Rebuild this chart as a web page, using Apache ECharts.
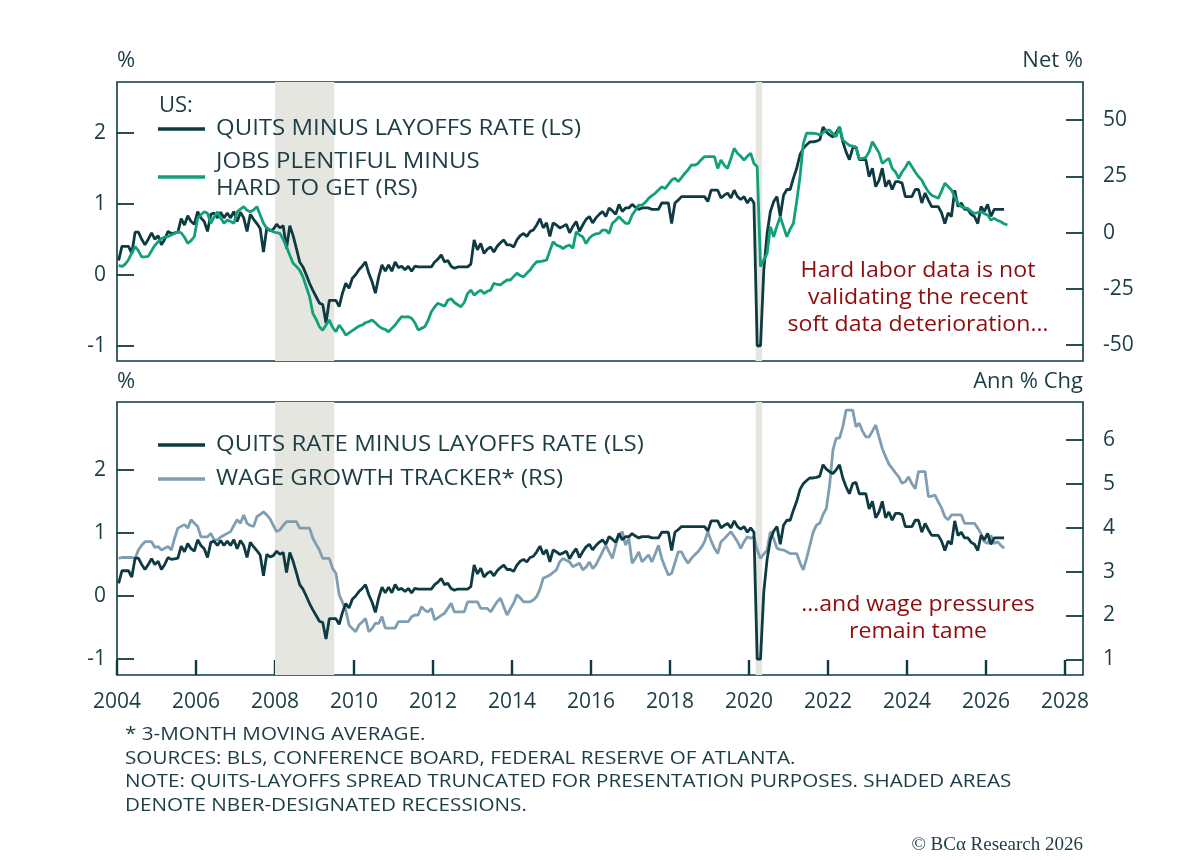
<!DOCTYPE html>
<html>
<head>
<meta charset="utf-8">
<script src="https://cdn.jsdelivr.net/npm/echarts@6/dist/echarts.min.js"></script>
<style>
html,body{margin:0;padding:0;background:#fff;}
#chart{width:1200px;height:860px;}
</style>
</head>
<body>
<div id="chart"></div>
<script>
// Monthly data, starting January 2004
const START_YEAR = 2004;
const xTickYears = [2004,2006,2008,2010,2012,2014,2016,2018,2020,2022,2024,2026,2028];
const topLeftTicks = [-1,0,1,2];
const topRightTicks = [-50,-25,0,25,50];
const botLeftTicks = [-1,0,1,2];
const botRightTicks = [1,2,3,4,5,6];
const recessions = [[2008.0, 2009.5],[2020.167, 2020.333]];

// Quits minus layoffs rate (%), truncated at -1
const quitsMinusLayoffs = [
0.2,0.4,0.4,0.4,0.3,0.6,0.6,0.5,0.42,0.5,0.59,0.5,
0.55,0.42,0.5,0.61,0.58,0.59,0.6,0.79,0.7,0.83,0.75,0.71,
0.89,0.8,0.75,0.61,0.85,0.87,0.8,0.88,0.8,0.87,0.8,0.89,
0.75,0.88,0.8,0.61,0.85,0.78,0.72,0.65,0.32,0.66,0.62,0.64,
0.71,0.66,0.69,0.37,0.69,0.55,0.37,0.18,0.11,0.0,-0.12,-0.22,
-0.31,-0.4,-0.42,-0.68,-0.36,-0.36,-0.36,-0.45,-0.26,-0.12,-0.19,-0.05,
0.0,0.07,0.12,0.18,0.02,-0.1,-0.26,-0.03,0.14,0.05,0.14,0.05,
0.18,0.1,0.12,0.07,0.12,0.05,0.12,0.11,0.11,0.11,0.11,0.11,
0.18,0.22,0.28,0.18,0.2,0.12,0.09,0.11,0.11,0.11,0.11,0.15,
0.49,0.35,0.44,0.3,0.36,0.39,0.32,0.4,0.45,0.49,0.42,0.42,
0.39,0.49,0.55,0.58,0.54,0.61,0.63,0.7,0.79,0.66,0.73,0.54,
0.73,0.7,0.66,0.68,0.71,0.59,0.68,0.75,0.61,0.7,0.78,0.82,
0.73,0.8,0.85,0.89,0.82,0.94,0.9,0.85,0.99,0.89,0.94,0.94,
0.99,0.95,0.92,0.94,0.94,0.94,0.92,0.92,0.92,1.01,1.01,1.01,
0.72,1.01,1.05,1.1,1.1,1.1,1.1,1.1,1.1,1.1,1.1,1.03,
1.19,1.19,1.19,1.08,1.12,1.15,1.08,1.19,1.1,1.06,1.1,1.01,
1.08,1.01,-1.0,-1.0,0.07,0.58,0.89,1.03,1.1,0.82,1.12,1.2,
1.2,1.36,1.5,1.69,1.78,1.83,1.87,1.87,1.88,1.9,2.08,2.01,
1.97,1.94,2.0,2.08,1.87,1.73,1.62,1.78,1.8,1.62,1.62,1.62,
1.38,1.5,1.24,1.33,1.5,1.24,1.33,1.2,1.31,1.31,1.29,1.1,
1.1,1.1,1.2,1.2,1.01,1.15,1.05,0.96,0.96,0.96,0.87,0.72,
0.87,0.82,1.19,0.96,1.01,0.92,0.92,0.85,0.82,0.72,0.96,0.89,
0.99,0.82,0.92,0.92,0.92,0.92
];

// Jobs plentiful minus hard to get (net %)
const jobsPlentifulMinusHard = [
-14.5,-15,-14,-12,-9,-6.2,-8,-10.7,-10.7,-10.5,-8,-5.6,
-4,-2.5,-2,-1.7,-1,-0.3,0.4,0,-2,-4.7,-3.5,-1.7,
6.4,8,9.3,8.6,4.2,7,9.3,6.5,4.2,5.6,5,4.2,
9.3,10.5,11.6,10,9.3,10.1,11.6,7.9,4.2,2,1.2,0.4,
0,-0.3,-3,-6.2,-10,-13.6,-15,-16.6,-19.6,-24,-28.4,-35.8,
-38.5,-41.8,-43.3,-41,-38.8,-42,-44,-41,-43,-45.5,-44.5,-43.5,
-42.5,-41.5,-41,-40,-39.5,-38.8,-40,-41.5,-42.5,-43,-44,-42.5,
-41,-39,-37.3,-37.5,-37.3,-38,-40,-43.2,-42.5,-41.8,-39,-35.1,
-33,-31.3,-32,-32.7,-30,-29.3,-31,-32,-32.9,-31,-27,-25.5,
-27.7,-26.5,-25.5,-27,-26,-25.5,-22.5,-23,-23.2,-22,-21,-21,
-19.5,-18,-19,-19.6,-18,-16.6,-14.5,-12.9,-12.9,-12.5,-12.2,-8,
-4,-5.5,-6,-7,-6,-5.5,-6.9,0.4,-1,-1.8,-4.8,-2.5,
-1.1,-0.5,-0.3,1.2,1.2,-0.3,4.2,5.5,7.1,5.6,4.2,4.2,
7.9,10,12.3,12.3,13.5,15.3,16.5,17.5,19,20.4,19.6,21.5,
23.4,24.2,22.7,24.5,26.4,28,30.1,30,30.8,32.5,33.8,33.8,
33.8,33.8,28.6,32.3,30,28.6,33,37.5,35.3,34,32.3,34,
35.3,30.8,29.3,-15.1,-12,-9.2,2.7,-1.8,3,7.1,2.6,-1.8,
1.6,4.2,14,24.9,39.7,44.2,44.2,44.2,44,43.5,44.5,45.6,
45.6,44,42.7,47.1,41.2,40,38.8,38.5,38,32.8,33,33.5,
36,40.5,38,35.5,30.8,32,33,28.6,27,24.2,27,29,
31.6,29.3,27,25,23.4,20.5,18.2,16.7,16,15.3,18.5,22,
20.5,19,16,13.1,11.6,11,10.8,9.5,8.6,9,9.3,8.5,
7.9,5.6,6.4,5.5,4.9,4,3.4
];

// Wage growth tracker, 3-month moving average (ann % chg)
const wageGrowthTracker = [
3.30,3.32,3.32,3.32,3.32,3.30,3.49,3.6,3.68,3.68,3.68,3.55,
3.57,3.49,3.53,3.57,3.49,3.76,3.99,4.03,4.07,3.99,4.18,4.1,
4.03,3.79,3.79,3.79,3.87,3.72,3.72,3.79,3.83,3.87,3.91,4.05,
4.18,4.1,4.29,4.1,4.05,4.03,4.25,4.3,4.36,4.29,4.2,4.05,
3.91,3.95,4.05,4.14,4.14,4.14,4.14,3.99,3.99,3.99,3.99,3.76,
3.62,3.49,3.3,3.3,3.3,3.07,2.96,2.47,2.3,2.12,1.78,1.7,
1.63,1.78,1.85,1.93,1.63,1.7,1.82,1.82,1.97,1.71,1.71,1.71,
1.71,1.86,1.86,1.86,1.86,1.97,2.01,2.01,2.2,2.12,2.08,2.16,
1.9,1.95,2.0,2.05,2.16,2.28,2.08,2.08,2.08,2.08,2.31,2.31,
2.31,2.31,2.16,2.16,2.16,2.08,2.2,2.31,2.39,2.2,2.01,2.15,
2.28,2.47,2.4,2.31,2.31,2.31,2.35,2.43,2.6,2.85,2.88,2.92,
2.98,3.04,3.22,3.30,3.26,3.22,3.11,3.15,3.19,3.04,3.1,3.22,
3.07,3.15,3.30,3.45,3.6,3.45,3.3,3.6,3.83,3.91,3.6,3.76,
3.19,3.3,3.45,3.22,3.3,3.38,3.22,3.4,3.6,3.3,3.1,2.92,
2.96,3.2,3.45,3.45,3.3,3.19,3.3,3.38,3.45,3.55,3.68,3.91,
3.7,3.53,3.41,3.68,3.75,3.83,3.91,3.8,3.68,3.53,3.68,3.79,
3.76,3.79,3.49,3.30,3.4,3.49,3.91,3.75,3.53,3.5,3.49,3.45,
3.41,3.41,3.41,3.2,3.04,3.3,3.6,3.9,4.06,4.1,4.3,4.44,
4.97,5.77,6.04,6.04,6.3,6.68,6.68,6.68,6.3,6.38,6.2,6.07,
6.07,6.2,6.34,6.07,5.8,5.62,5.45,5.35,5.25,5.16,5.01,5.05,
5.16,5.0,4.89,5.28,5.28,5.28,4.71,4.72,4.74,4.59,4.45,4.25,
4.18,4.29,4.29,4.29,4.29,4.1,4.1,4.1,4.1,3.99,3.87,3.68,
3.64,3.83,3.64,3.68,3.6,3.53
];

const DARK = '#0e3a41';
const GREEN = '#12a07b';
const WAGE = '#7f9eb2';
const TXT = '#1b3d43';
const RED = '#8e0c0c';
const SHADE = '#e6e6e0';
const FONT = '"Open Sans", "Noto Sans", sans-serif';

function toPairs(vals){ return vals.map((v,i)=>[START_YEAR + (i+0.5)/12, v]); }

const X_MIN = 2004, X_MAX = 2028.456;
const L = 117, R = 1083;

function xAxisDef(idx, showLabels){
  return {
    type:'value', gridIndex: idx, min:X_MIN, max:X_MAX,
    axisLine:{show:false, onZero:false},
    splitLine:{show:false},
    axisTick:{show:showLabels, inside:true, length:15, lineStyle:{color:DARK, width:2.4}, customValues: xTickYears},
    axisLabel:{show:showLabels, customValues: xTickYears, color:TXT, fontFamily:FONT, fontSize:21, fontWeight:500, margin:17, formatter:v=>String(Math.round(v))}
  };
}
function yAxisDef(idx, pos, min, max, ticks){
  return {
    type:'value', gridIndex: idx, position: pos, min:min, max:max,
    axisLine:{show:false, onZero:false}, splitLine:{show:false},
    axisTick:{show:true, inside:true, length:17, lineStyle:{color:DARK, width:1.8}, customValues: ticks},
    axisLabel:{customValues: ticks, color:TXT, fontFamily:FONT, fontSize:21, fontWeight:500, margin:(pos==='left'?11:20), formatter:v=>String(v)}
  };
}

const recArea = recessions.map(r=>[{xAxis:r[0]},{xAxis:r[1]}]);

const chart = echarts.init(document.getElementById('chart'), null, {renderer:'canvas'});

function legendLine(y, color){
  return {type:'line', shape:{x1:158,y1:y,x2:205,y2:y}, style:{stroke:color, lineWidth:3.5}};
}
function txt(t, x, y, opts){
  opts = opts || {};
  const sx = opts.scaleX || 1;
  return {type:'text', x:x, y:y, scaleX:sx, scaleY:1,
    style:{text:t, x:0, y:0, fill:opts.fill||TXT,
    font:(opts.weight||'500')+' '+(opts.size||20)+'px '+(opts.family||FONT),
    textAlign:opts.align||'left', textVerticalAlign:'middle', align:opts.align||'left', verticalAlign:'middle'}, z:100};
}

const option = {
  animation:false,
  backgroundColor:'#ffffff',
  grid:[
    {left:L, top:82, width:R-L, height:279, show:true, borderColor:DARK, borderWidth:1.6, backgroundColor:'transparent'},
    {left:L, top:402, width:R-L, height:273, show:true, borderColor:DARK, borderWidth:1.6, backgroundColor:'transparent'}
  ],
  xAxis:[ xAxisDef(0,false), xAxisDef(1,true) ],
  yAxis:[
    yAxisDef(0,'left',-1.215,2.714,topLeftTicks),
    yAxisDef(0,'right',-57.0,66.98,topRightTicks),
    yAxisDef(1,'left',-1.252,3.074,botLeftTicks),
    yAxisDef(1,'right',0.642,6.865,botRightTicks)
  ],
  series:[
    {type:'line', xAxisIndex:0, yAxisIndex:0, data:toPairs(quitsMinusLayoffs), showSymbol:false,
     lineStyle:{color:DARK, width:2.8}, itemStyle:{color:DARK}, z:3,
     markArea:{silent:true, itemStyle:{color:SHADE}, data:recArea}},
    {type:'line', xAxisIndex:0, yAxisIndex:1, data:toPairs(jobsPlentifulMinusHard), showSymbol:false,
     lineStyle:{color:GREEN, width:2.8}, itemStyle:{color:GREEN}, z:4},
    {type:'line', xAxisIndex:1, yAxisIndex:3, data:toPairs(wageGrowthTracker), showSymbol:false,
     lineStyle:{color:WAGE, width:2.8}, itemStyle:{color:WAGE}, z:3,
     markArea:{silent:true, itemStyle:{color:SHADE}, data:recArea}},
    {type:'line', xAxisIndex:1, yAxisIndex:2, data:toPairs(quitsMinusLayoffs), showSymbol:false,
     lineStyle:{color:DARK, width:2.8}, itemStyle:{color:DARK}, z:4}
  ],
  graphic:[
    txt('%', 117, 61, {size:22}),
    txt('Net %', 1083, 61, {size:22, align:'right'}),
    txt('%', 117, 382, {size:22}),
    txt('Ann % Chg', 1083, 382, {size:22, align:'right'}),
    txt('US:', 159, 106, {size:22}),
    legendLine(129, DARK),
    txt('QUITS MINUS LAYOFFS RATE (LS)', 216, 129, {size:22, scaleX:1.09}),
    legendLine(177, GREEN),
    txt('JOBS PLENTIFUL MINUS', 216, 162, {size:22, scaleX:1.09}),
    txt('HARD TO GET (RS)', 216, 189, {size:22, scaleX:1.09}),
    legendLine(445, DARK),
    txt('QUITS RATE MINUS LAYOFFS RATE (LS)', 216, 445, {size:22, scaleX:1.09}),
    legendLine(479, WAGE),
    txt('WAGE GROWTH TRACKER* (RS)', 216, 479, {size:22, scaleX:1.09}),
    txt('Hard labor data is not', 918, 271, {size:22, fill:RED, align:'center', scaleX:1.05}),
    txt('validating the recent', 918, 298, {size:22, fill:RED, align:'center', scaleX:1.05}),
    txt('soft data deterioration\u2026', 918, 325, {size:22, fill:RED, align:'center', scaleX:1.05}),
    txt('\u2026and wage pressures', 918, 605, {size:22, fill:RED, align:'center', scaleX:1.05}),
    txt('remain tame', 918, 632, {size:22, fill:RED, align:'center', scaleX:1.05}),
    txt('* 3-MONTH MOVING AVERAGE.', 125, 735, {size:17.5, scaleX:1.18}),
    txt('SOURCES: BLS, CONFERENCE BOARD, FEDERAL RESERVE OF ATLANTA.', 125, 759, {size:17.5, scaleX:1.18}),
    txt('NOTE: QUITS-LAYOFFS SPREAD TRUNCATED FOR PRESENTATION PURPOSES. SHADED AREAS', 125, 782, {size:17.5, scaleX:1.18}),
    txt('DENOTE NBER-DESIGNATED RECESSIONS.', 125, 806, {size:17.5, scaleX:1.18}),
    txt('\u00A9 BC\u03B1 Research 2026', 1083, 845, {size:19, weight:'normal', align:'right', family:'"Liberation Serif", "DejaVu Serif", serif'})
  ]
};
chart.setOption(option);
</script>
</body>
</html>
